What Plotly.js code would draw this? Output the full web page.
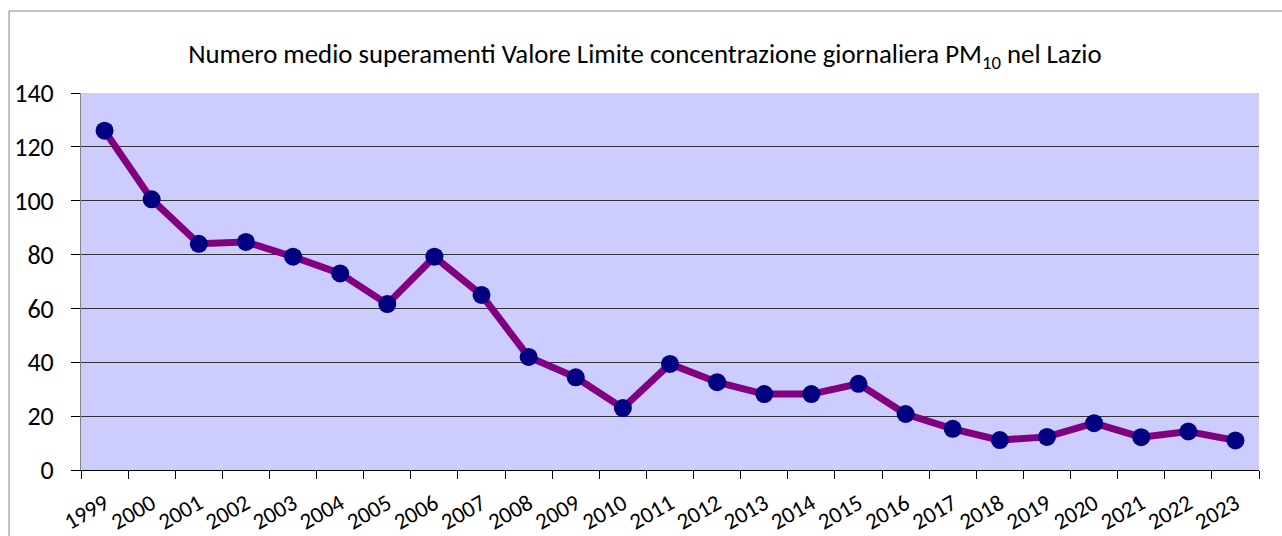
<!DOCTYPE html>
<html>
<head>
<meta charset="utf-8">
<script src="https://cdn.plot.ly/plotly-3.0.1.min.js"></script>
<style>html,body{margin:0;padding:0;background:#fff;}#chart{width:1282px;height:536px;}</style>
</head>
<body>
<div id="chart"></div>
<script>
const years = ["1999","2000","2001","2002","2003","2004","2005","2006","2007","2008","2009","2010","2011","2012","2013","2014","2015","2016","2017","2018","2019","2020","2021","2022","2023"];
const superamenti = [126, 100.5, 84, 84.7, 79.2, 73, 61.6, 79.2, 65, 42, 34.4, 23, 39.4, 32.6, 28.2, 28.2, 32, 20.8, 15.3, 11.1, 12.3, 17.4, 12.2, 14.3, 11];
const titleText = "Numero medio superamenti Valore Limite concentrazione giornaliera PM<sub>10</sub> nel Lazio";
const yTicks = [0, 20, 40, 60, 80, 100, 120, 140];

const font = "Carlito, Calibri, 'Open Sans', 'Liberation Sans', sans-serif";

Plotly.newPlot("chart", [{
  type: "scatter",
  mode: "lines+markers",
  x: years,
  y: superamenti,
  line: {color: "#800080", width: 7},
  marker: {color: "#000080", size: 18},
  hoverinfo: "x+y"
}], {
  width: 1282, height: 536,
  margin: {l: 81, r: 23, t: 93, b: 66},
  paper_bgcolor: "#ffffff",
  plot_bgcolor: "#CCCCFF",
  showlegend: false,
  font: {family: font, color: "#000"},
  title: {text: titleText, font: {size: 26.8, family: font, color: "#000"}, x: 0.503, xanchor: "center", y: 0.9, yanchor: "middle"},
  xaxis: {
    type: "category",
    tickson: "boundaries",
    ticks: "outside", ticklen: 8, tickcolor: "#000", tickwidth: 1,
    tickangle: -30,
    ticklabelstandoff: 10,
    tickfont: {size: 23, family: font},
    showline: true, linecolor: "#000", linewidth: 1,
    showgrid: false, zeroline: false,
    range: [-0.5, 24.5]
  },
  yaxis: {
    range: [0, 140],
    tickvals: yTicks,
    ticks: "outside", ticklen: 9, tickcolor: "#000", tickwidth: 1,
    ticklabelstandoff: 12,
    tickfont: {size: 26, family: font},
    showline: true, linecolor: "#868686", linewidth: 1,
    showgrid: true, gridcolor: "#333333", gridwidth: 1,
    zeroline: false
  },
  shapes: [{
    type: "rect", xref: "paper", yref: "paper",
    x0: -0.0611, x1: 1.2, y0: -0.5, y1: 1.2175,
    line: {color: "#868686", width: 1}, fillcolor: "rgba(0,0,0,0)", layer: "below"
  }]
}, {displayModeBar: false});
</script>
</body>
</html>
